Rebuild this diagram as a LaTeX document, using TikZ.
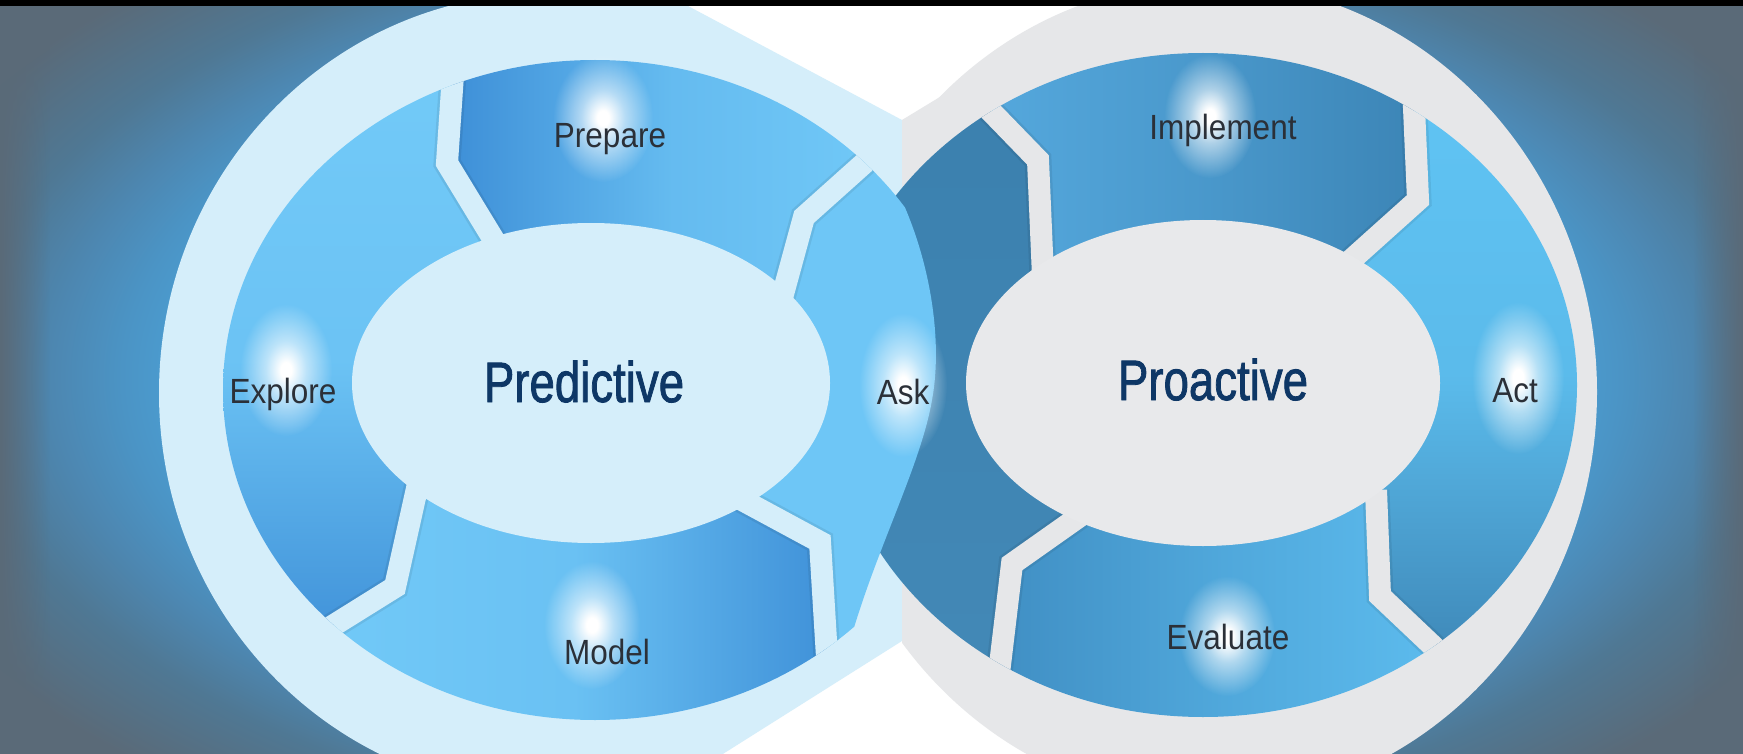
\documentclass[tikz,border=0pt]{standalone}
\usepackage{fontspec}
\setmainfont{Liberation Sans}
\newfontfamily\ringtitlefont[FakeBold=1.6]{Liberation Sans}
\usepackage{graphicx}
\usetikzlibrary{calc,fadings}

% palette
\definecolor{bgA}{HTML}{4AA8DF}
\definecolor{bgB}{HTML}{4AA2D8}
\definecolor{bgC}{HTML}{4B94C5}
\definecolor{bgD}{HTML}{4D87B1}
\definecolor{bgE}{HTML}{4F7894}
\definecolor{bgslate}{HTML}{5A6A78}
\definecolor{lightdisc}{HTML}{D5EEFA}
\definecolor{graydisc}{HTML}{E6E7E9}
\definecolor{grayinner}{HTML}{E8E9EB}
\definecolor{skyA}{HTML}{72CAF8}
\definecolor{skyB}{HTML}{3C8DD6}
\definecolor{askLight}{HTML}{6EC6F6}
\definecolor{askDarkA}{HTML}{3B80AE}
\definecolor{askDarkB}{HTML}{4389B7}
\definecolor{implA}{HTML}{56AADF}
\definecolor{implB}{HTML}{3A82B3}
\definecolor{actA}{HTML}{60C4F4}
\definecolor{actB}{HTML}{3C84B4}
\definecolor{evalA}{HTML}{3F8DC2}
\definecolor{evalB}{HTML}{5EBEF0}
\definecolor{labelgray}{HTML}{2B3038}
\definecolor{titlenavy}{HTML}{0E3766}

% backdrop: bright blue halo round the discs, darker slate toward the rim
\pgfdeclareradialshading{bgshade}{\pgfpointorigin}{%
  color(0bp)=(bgA); color(19bp)=(bgB); color(21.5bp)=(bgC);
  color(23.5bp)=(bgD); color(26bp)=(bgE); color(30bp)=(bgslate); color(50bp)=(bgslate)}
% soft white highlight behind each step label
\pgfdeclareradialshading{glowshade}{\pgfpointorigin}{%
  color(0bp)=(white); color(3bp)=(white); color(11bp)=(white!55!black);
  color(25bp)=(black); color(50bp)=(black)}
\pgfdeclarefading{glowfade}{\pgfuseshading{glowshade}}

\newcommand\seglbl[1]{\scalebox{0.9}[1]{#1}}
\newcommand\ringttl[1]{\scalebox{0.8}[1]{#1}}

\tikzset{
  seglabel/.style={text=labelgray, inner sep=0pt, anchor=base, font=\fontsize{35}{35}\selectfont},
  ringtitle/.style={text=titlenavy, inner sep=0pt, anchor=base, font=\ringtitlefont\fontsize{57}{57}\selectfont},
  glow/.style={fill=white, path fading=glowfade},
  gapline/.style={line width=22pt, line join=miter, miter limit=10},
  gapshade/.style={line width=27pt, line join=miter, miter limit=10, black, opacity=0.07},
}

\begin{document}
\begin{tikzpicture}[x=1pt,y=-1pt]
\useasboundingbox (0,0) rectangle (1743,754);

% ring centres
\coordinate (L)  at (595,390);
\coordinate (Li) at (591,383);
\coordinate (R)  at (1203,385);
\coordinate (Ri) at (1203,383);

% chevron cuts of the left ring (inner end, vertex, outer end)
\coordinate (apI) at (780,305); \coordinate (apV) at (804,217); \coordinate (apO) at (890,140);
\coordinate (peI) at (500,250); \coordinate (peV) at (447,163); \coordinate (peO) at (455,45);
\coordinate (emI) at (420,475); \coordinate (emV) at (395,587); \coordinate (emO) at (310,640);
\coordinate (maI) at (720,488); \coordinate (maV) at (820,542); \coordinate (maO) at (829,690);
\coordinate (apF) at ($(L)!3!(apO)$);
\coordinate (peF) at ($(L)!3!(peO)$);
\coordinate (emF) at ($(L)!3!(emO)$);
\coordinate (maF) at ($(L)!3!(maO)$);

% chevron cuts of the right ring
\coordinate (aiI) at (1044,300); \coordinate (aiV) at (1038,160); \coordinate (aiO) at (975,95);
\coordinate (iaI) at (1340,270); \coordinate (iaV) at (1418,200); \coordinate (iaO) at (1413,85);
\coordinate (aeI) at (1376,490); \coordinate (aeV) at (1380,596); \coordinate (aeO) at (1455,667);
\coordinate (eaI) at (1080,516); \coordinate (eaV) at (1012,564); \coordinate (eaO) at (997,690);
\coordinate (aiF) at ($(R)!3!(aiO)$);
\coordinate (iaF) at ($(R)!3!(iaO)$);
\coordinate (aeF) at ($(R)!3!(aeO)$);
\coordinate (eaF) at ($(R)!3!(eaO)$);

\begin{scope}
\clip (0,0) rectangle (1743,754);

% backdrop
\shade[shading=bgshade] (0,-73) rectangle (1743,827);
\fill[bgslate, path fading=east] (0,0) rectangle (50,754);
\fill[bgslate, path fading=west] (1693,0) rectangle (1743,754);
% white waist between the discs
\fill[white] (658,-10) -- (1116,-10) -- (1099,764) -- (707,764) -- cycle;

% left disc with its half of the waist
\begin{scope}
  \clip (-10,-20) rectangle (902,780);
  \fill[lightdisc] (547,393) ellipse (388 and 400);
  \fill[lightdisc] (902,120) -- (658,-10) -- (547,-10) -- (547,764) -- (707,764) -- (902,641) -- cycle;
\end{scope}
% right disc with its half of the waist
\begin{scope}
  \clip (902,-20) rectangle (1800,780);
  \fill[graydisc] (1209,392) ellipse (388 and 410);
  \fill[graydisc] (902,120) -- (1116,-10) -- (1209,-10) -- (1209,764) -- (1099,764) -- (902,641) -- cycle;
\end{scope}

% ---------- right ring ----------
\begin{scope}
  \clip (R) ellipse (374 and 332);
  % Implement
  \begin{scope}
    \clip (R) -- (iaI) -- (iaV) -- (iaO) -- (iaF) -- (aiF) -- (aiO) -- (aiV) -- (aiI) -- cycle;
    \shade[left color=implA, right color=implB, middle color=implA!55!implB] (960,40) rectangle (1450,310);
  \end{scope}
  % Act
  \begin{scope}
    \clip (R) -- (aeI) -- (aeV) -- (aeO) -- (aeF) -- (iaF) -- (iaO) -- (iaV) -- (iaI) -- cycle;
    \shade[top color=actA, bottom color=actB, middle color=actA!85!actB] (1320,80) rectangle (1595,680);
  \end{scope}
  % Evaluate
  \begin{scope}
    \clip (R) -- (eaI) -- (eaV) -- (eaO) -- (eaF) -- (aeF) -- (aeO) -- (aeV) -- (aeI) -- cycle;
    \shade[left color=evalA, right color=evalB, middle color=evalA!45!evalB] (980,490) rectangle (1470,735);
  \end{scope}
  % Ask, right-hand half
  \begin{scope}
    \clip (R) -- (aiI) -- (aiV) -- (aiO) -- (aiF) -- (eaF) -- (eaO) -- (eaV) -- (eaI) -- cycle;
    \shade[top color=askDarkA, bottom color=askDarkB] (800,80) rectangle (1100,720);
  \end{scope}
  % gaps between the steps
  \foreach \g in {ai,ia,ae,ea} {
    \draw[gapshade] (\g I) -- (\g V) -- (\g O);
    \draw[gapline, graydisc] (\g I) -- (\g V) -- (\g O);
  }
\end{scope}
\fill[grayinner] (Ri) ellipse (237 and 163);

% ---------- left ring ----------
\begin{scope}
  \clip (L) ellipse (372 and 330);
  % Ask, left-hand half (lies over the right-hand half)
  \begin{scope}
    \clip (L) -- (maI) -- (maV) -- (maO) -- (maF) -- (apF) -- (apO) -- (apV) -- (apI) -- cycle;
    \clip (700,120) -- (880,160) .. controls (925,230) and (945,330) .. (932,400)
          .. controls (920,470) and (870,560) .. (845,660) -- (700,700) -- cycle;
    \fill[askLight] (700,90) rectangle (1000,720);
  \end{scope}
  % Prepare
  \begin{scope}
    \clip (L) -- (apI) -- (apV) -- (apO) -- (apF) -- (peF) -- (peO) -- (peV) -- (peI) -- cycle;
    \shade[left color=skyB, right color=skyA, middle color=skyA!75!skyB] (440,50) rectangle (900,300);
  \end{scope}
  % Explore
  \begin{scope}
    \clip (L) -- (peI) -- (peV) -- (peO) -- (peF) -- (emF) -- (emO) -- (emV) -- (emI) -- cycle;
    \shade[top color=skyA, bottom color=skyB, middle color=skyA!88!skyB] (215,60) rectangle (520,665);
  \end{scope}
  % Model
  \begin{scope}
    \clip (L) -- (emI) -- (emV) -- (emO) -- (emF) -- (maF) -- (maO) -- (maV) -- (maI) -- cycle;
    \shade[left color=skyA, right color=skyB, middle color=skyA!85!skyB] (300,480) rectangle (850,730);
  \end{scope}
  \foreach \g in {ap,pe,em,ma} {
    \draw[gapshade] (\g I) -- (\g V) -- (\g O);
    \draw[gapline, lightdisc] (\g I) -- (\g V) -- (\g O);
  }
\end{scope}
\fill[lightdisc] (Li) ellipse (239 and 160);

% highlights behind the labels
\fill[glow] (603,118) ellipse (50 and 64);
\fill[glow] (286,370) ellipse (46 and 66);
\fill[glow] (592,625) ellipse (48 and 64);
\fill[glow] (903,385) ellipse (44 and 72);
\fill[glow] (1210,116) ellipse (46 and 62);
\fill[glow] (1518,378) ellipse (46 and 76);
\fill[glow] (1227,636) ellipse (48 and 60);

% step labels
\node[seglabel] (prepare)   at (610,148)  {\seglbl{Prepare}};
\node[seglabel] (explore)   at (283,403)  {\seglbl{Explore}};
\node[seglabel] (model)     at (607,664)  {\seglbl{Model}};
\node[seglabel] (ask)       at (903,404)  {\seglbl{Ask}};
\node[seglabel] (implement) at (1223,140) {\seglbl{Implement}};
\node[seglabel] (act)       at (1515,402) {\seglbl{Act}};
\node[seglabel] (evaluate)  at (1228,649) {\seglbl{Evaluate}};

% ring titles
\node[ringtitle] (predictive) at (584,402)  {\ringttl{Predictive}};
\node[ringtitle] (proactive)  at (1213,400) {\ringttl{Proactive}};

% dark top edge
\fill[black] (0,0) rectangle (1743,6);
\end{scope}
\end{tikzpicture}
\end{document}
